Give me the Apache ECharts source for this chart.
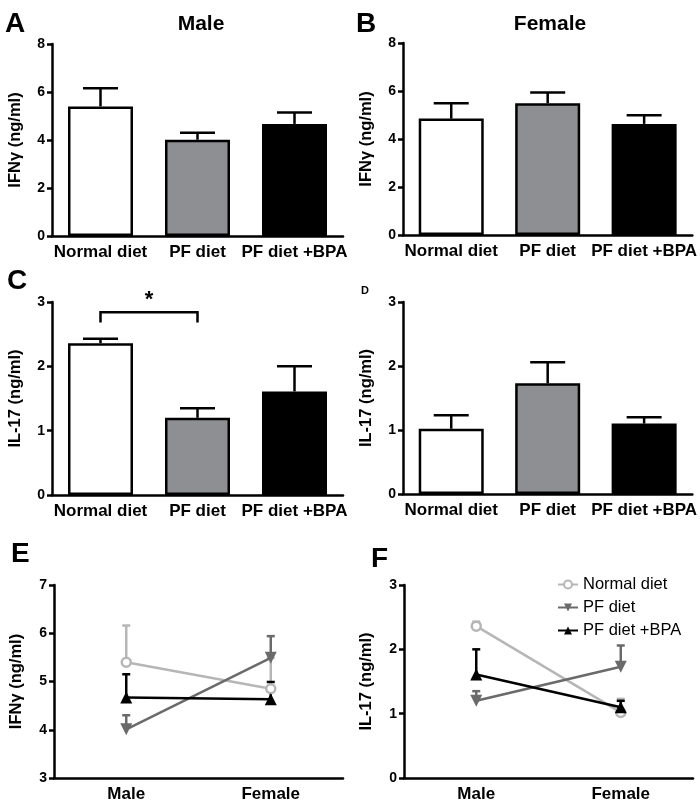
<!DOCTYPE html>
<html>
<head>
<meta charset="utf-8">
<script src="https://cdn.jsdelivr.net/npm/echarts@6/dist/echarts.min.js"></script>
<style>html,body{margin:0;padding:0;background:#fff}#c{width:700px;height:808px}</style>
</head>
<body>
<div id="c"></div>
<script>
// ---- data ----
const dietCats = ['Normal diet', 'PF diet', 'PF diet +BPA'];
const sexCats = ['Male', 'Female'];
const ifnMale = [5.40, 4.01, 4.67];
const ifnMaleErr = [6.16, 4.30, 5.15];
const ifnFemale = [4.85, 5.49, 4.63];
const ifnFemaleErr = [5.49, 5.94, 4.99];
const il17Male = [2.36, 1.20, 1.61];
const il17MaleErr = [2.43, 1.35, 2.00];
const il17Female = [1.02, 1.73, 1.10];
const il17FemaleErr = [1.23, 2.06, 1.20];
const yTicksIFN = [0, 2, 4, 6, 8];
const yTicksIL = [0, 1, 2, 3];
const yTicksIFNLine = [3, 4, 5, 6, 7];
const sigPair = [0, 1, 2.84, 2.68]; // bracket from cat 0 to cat 1, top y, leg y

const FONT = 'Liberation Sans, Arial, sans-serif';
const barFill = ['#ffffff', '#8e8f93', '#000000'];
const lineCol = ['#b6b6b6', '#6a6a6a', '#000000'];

const chart = echarts.init(document.getElementById('c'), null, {renderer: 'canvas'});

const grids = [
  {left: 52, top: 44, width: 291, height: 192},
  {left: 403, top: 43, width: 290, height: 192},
  {left: 52, top: 302, width: 291, height: 193},
  {left: 403, top: 302, width: 290, height: 192},
  {left: 54, top: 585, width: 289, height: 193},
  {left: 404, top: 585, width: 289, height: 193}
];

function xAx(gi, cats) {
  return {
    type: 'category', gridIndex: gi, data: cats, boundaryGap: true,
    axisLine: {lineStyle: {color: '#000', width: 2.5}},
    axisTick: {alignWithLabel: true, length: 6, lineStyle: {color: '#000', width: 2.5}},
    axisLabel: {interval: 0, color: '#000', fontFamily: FONT, fontWeight: 'bold', fontSize: 17, margin: 8}
  };
}
function yAx(gi, ticks, name, gap) {
  return {
    type: 'value', gridIndex: gi, min: ticks[0], max: ticks[ticks.length - 1],
    interval: ticks[1] - ticks[0],
    name: name, nameLocation: 'middle', nameGap: gap, nameRotate: 90,
    nameTextStyle: {color: '#000', fontFamily: FONT, fontWeight: 'bold', fontSize: 16.5},
    axisLine: {show: true, lineStyle: {color: '#000', width: 2.5}},
    axisTick: {show: true, length: 5, lineStyle: {color: '#000', width: 2.5}},
    axisLabel: {color: '#000', fontFamily: FONT, fontWeight: 'bold', fontSize: 14, margin: 7},
    splitLine: {show: false}
  };
}

function errSeries(xi, yi, data, color, capHalf, lw, z) {
  return {
    type: 'custom', xAxisIndex: xi, yAxisIndex: yi, z: z || 3, silent: true,
    data: data,
    encode: {x: 0, y: [1, 2]},
    renderItem: function (params, api) {
      const c = api.value(0), lo = api.value(1), hi = api.value(2);
      const p0 = api.coord([c, lo]), p1 = api.coord([c, hi]);
      const st = {stroke: color, lineWidth: lw};
      return {type: 'group', children: [
        {type: 'line', shape: {x1: p0[0], y1: p0[1], x2: p1[0], y2: p1[1]}, style: st},
        {type: 'line', shape: {x1: p1[0] - capHalf, y1: p1[1], x2: p1[0] + capHalf, y2: p1[1]}, style: st}
      ]};
    }
  };
}
function barSeries(xi, vals) {
  return {
    type: 'bar', xAxisIndex: xi, yAxisIndex: xi, barWidth: 65, z: 2,
    data: vals.map((v, i) => ({value: v, itemStyle: {color: barFill[i], borderColor: '#000', borderWidth: 2.5}}))
  };
}
function barErr(xi, vals, errs) {
  return errSeries(xi, xi, vals.map((v, i) => [i, v, errs[i]]), '#000', 17.5, 2.5, 3);
}

const series = [];
series.push(barSeries(0, ifnMale), barErr(0, ifnMale, ifnMaleErr));
series.push(barSeries(1, ifnFemale), barErr(1, ifnFemale, ifnFemaleErr));
series.push(barSeries(2, il17Male), barErr(2, il17Male, il17MaleErr));
series.push(barSeries(3, il17Female), barErr(3, il17Female, il17FemaleErr));

// significance bracket in panel C
series.push({
  type: 'custom', xAxisIndex: 2, yAxisIndex: 2, z: 4, silent: true,
  data: [sigPair],
  renderItem: function (params, api) {
    const a = api.coord([api.value(0), api.value(2)]);
    const b = api.coord([api.value(1), api.value(2)]);
    const legY = api.coord([api.value(0), api.value(3)])[1];
    return {type: 'group', children: [
      {type: 'polyline', shape: {points: [[a[0], legY], [a[0], a[1]], [b[0], b[1]], [b[0], legY]]},
        style: {stroke: '#000', lineWidth: 2.5, fill: null}},
      {type: 'text', style: {text: '*', x: (a[0] + b[0]) / 2, y: a[1] - 1, align: 'center', verticalAlign: 'bottom',
        font: 'bold 22px ' + FONT, fill: '#000'}}
    ]};
  }
});

// line panels E (IFN) and F (IL-17)
const names = dietCats;
const symbols = ['circle', 'triangle', 'triangle'];
const rot = [0, 180, 0];
function linePanel(gi, maleV, maleE, femV, femE) {
  for (let k = 0; k < 3; k++) {
    series.push(errSeries(gi, gi, [[0, maleV[k], maleE[k]], [1, femV[k], femE[k]]], lineCol[k], 4, 2.5, 3));
  }
  for (let k = 0; k < 3; k++) {
    series.push({
      type: 'line', name: names[k], xAxisIndex: gi, yAxisIndex: gi, z: 5 + (k === 0 ? 0 : k),
      data: [maleV[k], femV[k]],
      symbol: symbols[k], symbolRotate: rot[k], symbolSize: k === 0 ? 9 : 12,
      lineStyle: {color: lineCol[k], width: 2.5},
      itemStyle: k === 0 ? {color: '#fff', borderColor: lineCol[k], borderWidth: 2.5} : {color: lineCol[k], borderWidth: 0}
    });
  }
}
linePanel(4, ifnMale, ifnMaleErr, ifnFemale, ifnFemaleErr);
linePanel(5, il17Male, il17MaleErr, il17Female, il17FemaleErr);

function t(text, left, top, size, weight, align) {
  return {text: text, left: left, top: top, textAlign: align || 'left',
    textStyle: {fontFamily: FONT, fontWeight: weight || 'bold', fontSize: size, color: '#000'}};
}

const option = {
  animation: false,
  backgroundColor: '#fff',
  title: [
    t('A', 0, 5, 28), t('B', 351, 5, 28), t('C', 2, 262, 28), t('D', 356, 280, 11),
    t('E', 6, 535, 28), t('F', 366, 540, 28),
    t('Male', 196, 9, 21, 'bold', 'center'), t('Female', 545, 9, 21, 'bold', 'center')
  ],
  legend: {
    data: dietCats, orient: 'vertical', left: 552, top: 571,
    itemWidth: 20, itemHeight: 10, itemGap: 6,
    textStyle: {fontFamily: FONT, fontSize: 16.5, color: '#000'}
  },
  grid: grids,
  xAxis: [xAx(0, dietCats), xAx(1, dietCats), xAx(2, dietCats), xAx(3, dietCats), xAx(4, sexCats), xAx(5, sexCats)],
  yAxis: [
    yAx(0, yTicksIFN, 'IFNγ (ng/ml)', 28), yAx(1, yTicksIFN, 'IFNγ (ng/ml)', 28),
    yAx(2, yTicksIL, 'IL-17 (ng/ml)', 28), yAx(3, yTicksIL, 'IL-17 (ng/ml)', 28),
    yAx(4, yTicksIFNLine, 'IFNγ (ng/ml)', 29), yAx(5, yTicksIL, 'IL-17 (ng/ml)', 29)
  ],
  series: series
};
chart.setOption(option);
</script>
</body>
</html>
